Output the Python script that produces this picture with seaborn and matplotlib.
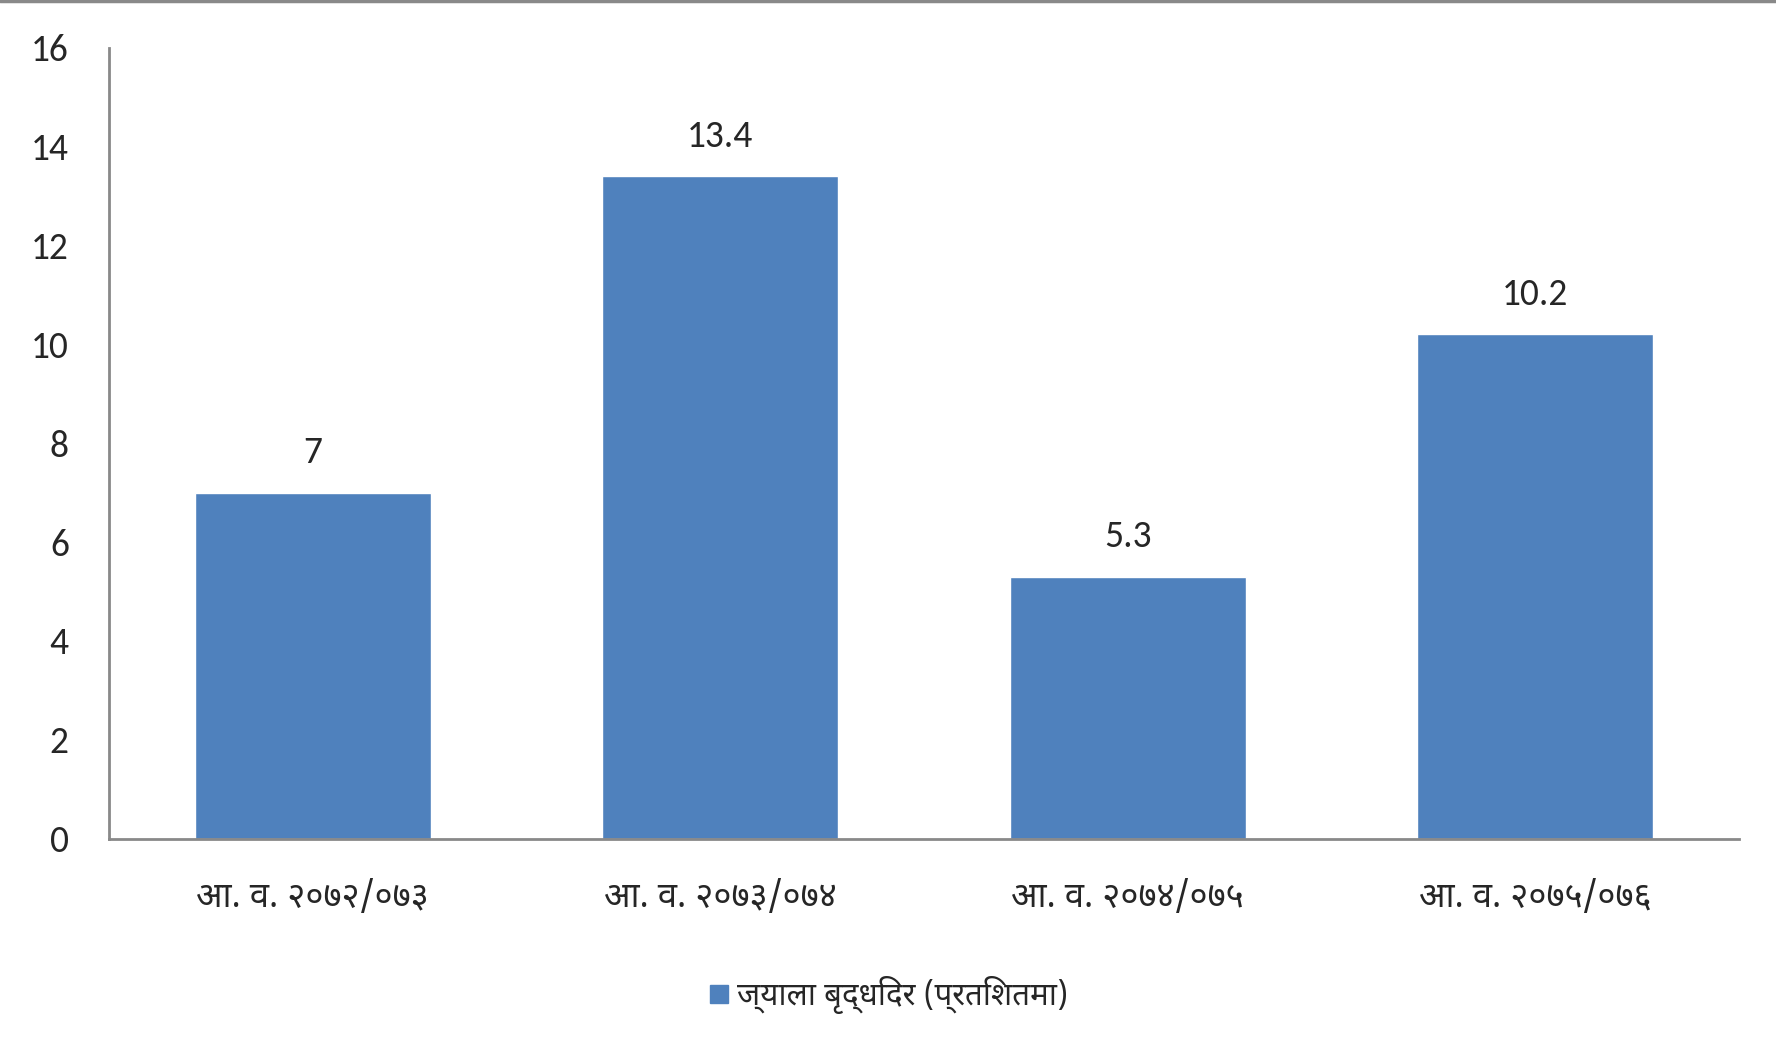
import matplotlib
matplotlib.use("Agg")
import matplotlib.pyplot as plt
from matplotlib.lines import Line2D
import seaborn as sns
import pandas as pd

# data
years = ["आ. व. २०७२/०७३", "आ. व. २०७३/०७४", "आ. व. २०७४/०७५", "आ. व. २०७५/०७६"]
growth = [7, 13.4, 5.3, 10.2]
value_labels = ["7", "13.4", "5.3", "10.2"]
yticks = [0, 2, 4, 6, 8, 10, 12, 14, 16]
series_name = "ज्याला बृद्धिदर (प्रतिशतमा)"

bar_color = "#4F81BD"
axis_gray = "#898989"
deva_fonts = ["Noto Sans Devanagari", "DejaVu Sans"]

sns.set_style("white")
plt.rcParams["font.family"] = ["Carlito", "Lato", "Noto Sans Devanagari", "DejaVu Sans"]

df = pd.DataFrame({"year": years, "growth": growth})

fig = plt.figure(figsize=(17.76, 10.44), dpi=100)
ax = fig.add_axes([0.0614, 0.1967, 0.9177, 0.7577])

sns.barplot(x="year", y="growth", data=df, color=bar_color, width=0.58,
            saturation=1, ax=ax)

ax.set_xlim(-0.5, 3.5)
ax.set_ylim(0, 16)
ax.set_yticks(yticks)
ax.set_yticklabels([str(t) for t in yticks], fontsize=27)
ax.set_xlabel("")
ax.set_ylabel("")
ax.tick_params(axis="both", length=0)
ax.tick_params(axis="y", pad=29)
ax.tick_params(axis="x", pad=30)
for lbl in ax.get_xticklabels():
    lbl.set_fontfamily(deva_fonts)
    lbl.set_fontsize(25)

for side in ["top", "right"]:
    ax.spines[side].set_visible(False)
for side in ["left", "bottom"]:
    ax.spines[side].set_color(axis_gray)
    ax.spines[side].set_linewidth(2)

ax.bar_label(ax.containers[0], labels=value_labels, padding=17, fontsize=27)

# legend below the plot
handle = Line2D([], [], marker="s", linestyle="none", markersize=13,
                markerfacecolor=bar_color, markeredgecolor=bar_color)
fig.legend([handle], [series_name], loc="center", bbox_to_anchor=(0.5, 0.047),
           frameon=False, handletextpad=0.2, handlelength=0.7,
           prop={"family": deva_fonts, "size": 22.5})

# thin gray rule at the top edge of the picture
fig.add_artist(Line2D([0, 1], [0.999, 0.999], color=axis_gray, linewidth=2.5,
                      transform=fig.transFigure))

plt.savefig("out.png", dpi=100)
